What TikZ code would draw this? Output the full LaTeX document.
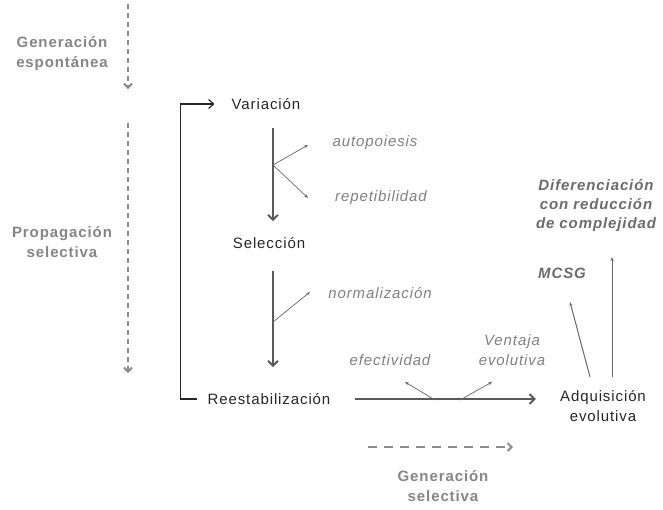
\documentclass[tikz,border=0pt]{standalone}
\usepackage{fontspec}
\setmainfont{Liberation Sans}[LetterSpace=6]
\usepackage{xcolor}
\usepackage{tikz}
\usetikzlibrary{positioning,arrows.meta}

\begin{document}
\begin{tikzpicture}[x=1pt, y=-1pt,
    lab/.style={inner sep=2pt, text=black!85, font=\fontsize{15}{20}\selectfont, align=center},
    side/.style={inner sep=2pt, text=black!48, font=\fontsize{15}{20}\selectfont\bfseries, align=center},
    note/.style={inner sep=2pt, text=black!50, font=\fontsize{15}{20}\selectfont\itshape, align=center},
    key/.style={inner sep=2pt, text=black!58, font=\fontsize{15}{19}\selectfont\bfseries\itshape, align=center},
    flow/.style={-{Straight Barb[length=5pt, width=10pt]}, line width=2pt, draw=black!65},
    branch/.style={-{Stealth[length=4pt, width=3pt]}, line width=0.7pt, draw=black!60},
    thinup/.style={-{Stealth[length=4pt, width=3pt]}, line width=1pt, draw=black!60},
    bracket/.style={-{Straight Barb[length=5pt, width=9pt]}, line width=1.2pt, draw=black!85},
    dasharrow/.style={-{Straight Barb[length=4pt, width=8pt]}, line width=2pt, draw=black!45, dash pattern=on 5pt off 4pt}]

    \useasboundingbox (0,0) rectangle (663,509);

    \node[lab] (var) at (266,104) {Variación};
    \node[lab] (sel) at (269,243) {Selección};
    \node[lab] (reest) at (269,399) {Reestabilización};
    \node[lab] (adq) at (603,406) {Adquisición\\evolutiva};

    \node[side] (genesp) at (62,54) {Generación\\espontánea};
    \node[side] (propsel) at (62,242) {Propagación\\selectiva};
    \node[side] (gensel) at (443,486) {Generación\\selectiva};

    \node[note] (auto) at (375,143) {autopoiesis};
    \node[note] (repe) at (381,198) {repetibilidad};
    \node[note] (norm) at (380,293) {normalización};
    \node[note] (efec) at (390,360) {efectividad};
    \node[note] (vent) at (512,350) {Ventaja\\evolutiva};

    \node[key] (mcsg) at (562,273) {MCSG};
    \node[key] (dif) at (596,206) {Diferenciación\\con reducción\\de complejidad};

    \coordinate (b1) at (273,165);
    \coordinate (b2) at (273,322);
    \coordinate (b3) at (435,400);
    \coordinate (b4) at (460,400);
    \coordinate (t1) at (308,145);
    \coordinate (t2) at (308,198);
    \coordinate (t3) at (310,292);
    \coordinate (t4) at (405,382);
    \coordinate (t5) at (492,382);
    \coordinate (m0) at (590,377);
    \coordinate (m1) at (570,302);
    \coordinate (d0) at (612,377);
    \coordinate (d1) at (612,257);
    \coordinate (s0) at (128,4);
    \coordinate (s1) at (128,89);
    \coordinate (s2) at (128,123);
    \coordinate (s3) at (128,373);
    \coordinate (g0) at (368,447);
    \coordinate (g1) at (513,447);

    \draw[flow, shorten <=16pt, shorten >=14pt] ([xshift=7pt]var.south) -- ([xshift=4pt]sel.north);
    \draw[flow, shorten <=20pt, shorten >=24pt] ([xshift=4pt]sel.south) -- ([xshift=4pt]reest.north);
    \draw[flow, shorten <=22pt, shorten >=22pt] (reest.east) -- (reest.east -| adq.west);
    \draw[bracket, shorten <=8pt, shorten >=15pt] (reest.west) -- ++(-25,0) |- (var.west);

    \draw[branch] (b1) -- (t1);
    \draw[branch] (b1) -- (t2);
    \draw[branch] (b2) -- (t3);
    \draw[branch] (b3) -- (t4);
    \draw[branch] (b4) -- (t5);
    \draw[thinup] (m0) -- (m1);
    \draw[thinup] (d0) -- (d1);

    \draw[dasharrow] (s0) -- (s1);
    \draw[dasharrow] (s2) -- (s3);
    \draw[dasharrow, dash pattern=on 9pt off 7pt] (g0) -- (g1);
\end{tikzpicture}
\end{document}
